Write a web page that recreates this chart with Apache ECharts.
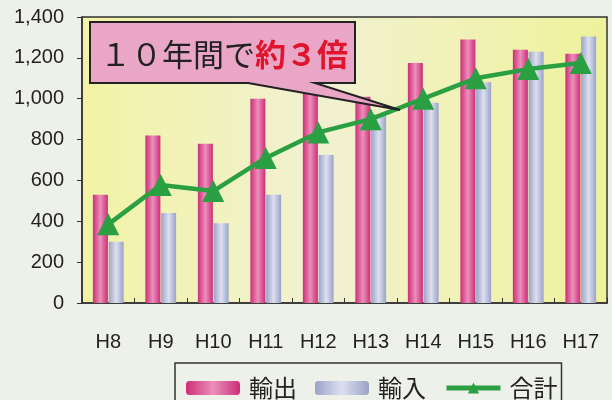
<!DOCTYPE html>
<html><head><meta charset="utf-8">
<script src="https://cdn.jsdelivr.net/npm/echarts@6/dist/echarts.min.js"></script>
<style>html,body{margin:0;padding:0;background:#eef1ea;}#c{width:612px;height:400px;}</style>
</head><body><div id="c"></div>
<script>
const categories = ['H8','H9','H10','H11','H12','H13','H14','H15','H16','H17'];
const exportValues = [530, 820, 780, 1000, 1050, 1010, 1175, 1290, 1240, 1220];
const importValues = [300, 440, 390, 530, 725, 925, 980, 1080, 1230, 1305];
const totalValues = [385, 578, 548, 710, 835, 900, 1000, 1100, 1145, 1175];
const yTicks = [0, 200, 400, 600, 800, 1000, 1200, 1400];
const seriesNames = ['輸出', '輸入', '合計'];

const chart = echarts.init(document.getElementById('c'));
const font = '"Liberation Sans", Arial, sans-serif';
const cjk = '"Noto Sans CJK JP", sans-serif';
const pinkGrad = new echarts.graphic.LinearGradient(0,0,1,0,[
  {offset:0,color:'#cc2e76'},{offset:0.5,color:'#ec8fbb'},{offset:1,color:'#cc2e76'}]);
const blueGrad = new echarts.graphic.LinearGradient(0,0,1,0,[
  {offset:0,color:'#9aa2ca'},{offset:0.5,color:'#dde0ee'},{offset:1,color:'#9aa2ca'}]);
chart.setOption({
  backgroundColor:'#eef1ea',
  animation:false,
  grid:{left:82,right:5,top:17,bottom:97,show:true,borderColor:'#333',borderWidth:1.5,
    backgroundColor:new echarts.graphic.LinearGradient(0,0,1,0,[
      {offset:0,color:'#f2f3a4'},{offset:0.45,color:'#f1f1d2'},{offset:0.7,color:'#f0f2b8'},{offset:1,color:'#eef29a'}])},
  xAxis:{type:'category',data:categories,
    axisLine:{lineStyle:{color:'#333',width:1.5}},
    axisTick:{show:true,inside:true,length:5,lineStyle:{color:'#333'}},
    axisLabel:{color:'#222',fontSize:20,fontFamily:font,margin:29}},
  yAxis:{type:'value',min:0,max:1400,interval:200,
    axisLine:{show:true,lineStyle:{color:'#333',width:1.5}},
    axisTick:{show:true,length:5,lineStyle:{color:'#333'}},
    splitLine:{show:false},
    axisLabel:{color:'#222',fontSize:20,fontFamily:font,margin:18,
      formatter:v=>yTicks.includes(v)?v.toLocaleString('en-US'):''}},
  legend:{left:175,top:363,width:380,borderColor:'#333',borderWidth:1.5,padding:[13,4,20,11],
    itemWidth:54,itemHeight:14,itemGap:18,
    textStyle:{fontSize:24,color:'#222',fontFamily:cjk,padding:[0,0,0,4]},
    data:[{name:seriesNames[0],itemStyle:{color:pinkGrad}},{name:seriesNames[1],itemStyle:{color:blueGrad}},
      {name:seriesNames[2],lineStyle:{color:'#2aa043',width:5},itemStyle:{color:'#2aa043'}}]},
  series:[
    {name:seriesNames[0],type:'bar',data:exportValues,barWidth:15,barGap:'5%',itemStyle:{color:pinkGrad}},
    {name:seriesNames[1],type:'bar',data:importValues,barWidth:15,barGap:'5%',itemStyle:{color:blueGrad}},
    {name:seriesNames[2],type:'line',data:totalValues,symbol:'triangle',symbolSize:22,
      lineStyle:{color:'#2aa043',width:4.5},itemStyle:{color:'#2aa043'},z:5}
  ],
  graphic:[
    {type:'polygon',z:10,shape:{points:[[90,22],[355,22],[355,83],[315,83],[400,110],[248,83],[90,83]]},
      style:{fill:'#e9a6c6',stroke:'#222',lineWidth:2}},
    {type:'text',z:11,left:100,top:39,style:{
      text:'{a|１０年間で}{b|約３倍}',
      rich:{a:{fontSize:31,fontFamily:cjk,fill:'#222',fontWeight:'normal'},
            b:{fontSize:31,fontFamily:cjk,fill:'#e0142c',fontWeight:'bold'}}}}
  ]
});
</script></body></html>
